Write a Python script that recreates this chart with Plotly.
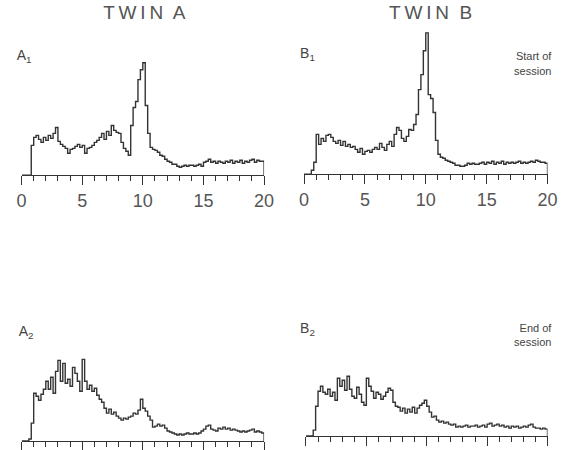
import plotly.graph_objects as go

BIN_WIDTH = 0.2
N_BINS = 100
X_TICKS = [0, 5, 10, 15, 20]
X_TICK_LABELS = ["0", "5", "10", "15", "20"]

twin_a_start = [0, 0, 0, 0, 30, 38, 40, 36, 33, 38,
                35, 40, 37, 42, 48, 34, 31, 29, 27, 22,
                26, 27, 29, 31, 28, 30, 22, 27, 28, 30,
                33, 35, 38, 42, 36, 44, 40, 50, 45, 43,
                42, 33, 27, 24, 20, 50, 68, 74, 96, 106,
                113, 70, 42, 28, 26, 25, 23, 20, 19, 16,
                14, 13, 11, 11, 9, 8, 9, 10, 9, 10,
                10, 9, 10, 11, 9, 13, 14, 16, 13, 14,
                12, 14, 13, 12, 14, 13, 15, 12, 14, 13,
                15, 12, 14, 13, 15, 16, 13, 15, 14, 14]

twin_b_start = [0, 0, 0, 4, 12, 40, 30, 36, 33, 39,
                40, 37, 33, 31, 34, 29, 33, 28, 30, 27,
                28, 25, 22, 26, 20, 23, 24, 22, 25, 27,
                25, 31, 27, 24, 30, 33, 28, 40, 47, 44,
                36, 33, 38, 45, 44, 50, 60, 85, 100, 124,
                142, 80, 76, 62, 34, 20, 17, 16, 14, 13,
                12, 11, 9, 9, 8, 8, 9, 11, 10, 11,
                10, 10, 11, 12, 10, 12, 11, 13, 10, 12,
                11, 13, 10, 12, 11, 12, 11, 12, 13, 11,
                12, 11, 12, 13, 12, 14, 13, 12, 12, 11]

twin_a_end = [0, 0, 0, 2, 18, 48, 45, 41, 47, 52,
              60, 52, 64, 48, 70, 81, 60, 78, 58, 62,
              55, 74, 68, 60, 50, 82, 60, 52, 56, 50,
              53, 46, 42, 39, 33, 28, 32, 27, 29, 25,
              23, 21, 23, 22, 24, 25, 28, 27, 31, 42,
              33, 30, 25, 21, 14, 15, 17, 15, 16, 13,
              10, 9, 8, 7, 6, 7, 6, 7, 8, 7,
              7, 8, 7, 8, 10, 12, 15, 16, 12, 11,
              10, 13, 12, 14, 12, 13, 11, 12, 11, 10,
              9, 10, 9, 10, 11, 12, 9, 10, 9, 8]

twin_b_end = [0, 0, 0, 6, 30, 45, 50, 44, 42, 47,
              40, 44, 36, 58, 50, 56, 46, 60, 47, 40,
              38, 49, 42, 34, 31, 58, 50, 45, 38, 44,
              42, 37, 40, 44, 48, 46, 34, 30, 29, 25,
              28, 23, 27, 24, 29, 23, 28, 31, 33, 36,
              30, 24, 19, 20, 16, 14, 15, 13, 14, 12,
              11, 12, 9, 10, 9, 10, 11, 9, 10, 10,
              11, 9, 10, 11, 9, 12, 13, 10, 11, 12,
              10, 11, 9, 10, 8, 10, 9, 10, 8, 9,
              10, 9, 11, 12, 9, 8, 8, 7, 8, 7]

edges = [round(i * BIN_WIDTH, 2) for i in range(N_BINS + 1)]

W, H = 577, 450
LINE = "#333333"
TXT = "#444444"
FONT = "Liberation Sans, Arial, sans-serif"

# panel geometry in pixels: (x_left, x_right, axis_y, y_max)
panels = [
    (twin_a_start, 17, 266, 176, 120, True),
    (twin_b_start, 307, 557, 175, 145, True),
    (twin_a_end, 17, 266, 443, 90, False),
    (twin_b_end, 309, 557, 438, 70, False),
]

fig = go.Figure()
layout = {}
for i, (vals, xl, xr, ay, ymax, showlab) in enumerate(panels, start=1):
    xa = "x" if i == 1 else f"x{i}"
    ya = "y" if i == 1 else f"y{i}"
    fig.add_trace(go.Scatter(
        x=edges, y=vals + [0], mode="lines", line_shape="hv",
        line=dict(color=LINE, width=1.4), xaxis=xa, yaxis=ya,
        showlegend=False, hoverinfo="skip"))
    kx = "xaxis" if i == 1 else f"xaxis{i}"
    ky = "yaxis" if i == 1 else f"yaxis{i}"
    layout[kx] = dict(
        domain=[xl / W, xr / W], range=[0, 20], anchor=ya,
        tickvals=X_TICKS, ticktext=X_TICK_LABELS, showticklabels=showlab,
        ticks="outside", ticklen=9, tickwidth=1.3, tickcolor=LINE,
        minor=dict(dtick=1, tick0=0, ticks="outside", ticklen=5,
                   tickwidth=1.1, tickcolor=LINE, showgrid=False),
        showline=True, linecolor=LINE, linewidth=1.4,
        showgrid=False, zeroline=False, fixedrange=True,
        tickfont=dict(family=FONT, size=18, color="#555555"))
    layout[ky] = dict(
        domain=[1 - ay / H, 1 - (ay - ymax) / H], range=[0, ymax],
        anchor=xa, visible=False, fixedrange=True)

# overlay axis in page pixels for the text labels
layout["xaxis5"] = dict(domain=[0, 1], range=[0, W], anchor="y5",
                        visible=False, fixedrange=True)
layout["yaxis5"] = dict(domain=[0, 1], range=[H, 0], anchor="x5",
                        visible=False, fixedrange=True)

TS = "\u2009"
texts = [
    # (text, x, y, position, size, colour)
    (TS.join("TWIN") + "  A", 143, 14, "middle center", 19, "#555555"),
    (TS.join("TWIN") + "  B", 437, 14, "middle center", 19, "#555555"),
    ("A<sub>1</sub>", 12, 57, "middle right", 14, TXT),
    ("B<sub>1</sub>", 303, 55, "middle right", 14, TXT),
    ("A<sub>2</sub>", 14, 334, "middle right", 14, TXT),
    ("B<sub>2</sub>", 303, 331, "middle right", 14, TXT),
    ("Start of<br>session", 561, 65, "middle left", 11, TXT),
    ("End of<br>session", 561, 338, "middle left", 11, TXT),
]
for t, px, py, pos, sz, col in texts:
    fig.add_trace(go.Scatter(
        x=[px], y=[py], mode="text", text=[t], textposition=pos,
        textfont=dict(family=FONT, size=sz, color=col),
        xaxis="x5", yaxis="y5", showlegend=False, hoverinfo="skip"))

fig.update_layout(
    width=W, height=H, margin=dict(l=0, r=0, t=0, b=0),
    paper_bgcolor="white", plot_bgcolor="rgba(0,0,0,0)", **layout)

fig.write_html("out.html", config={"displayModeBar": False},
               post_script="document.body.style.margin='0';")
